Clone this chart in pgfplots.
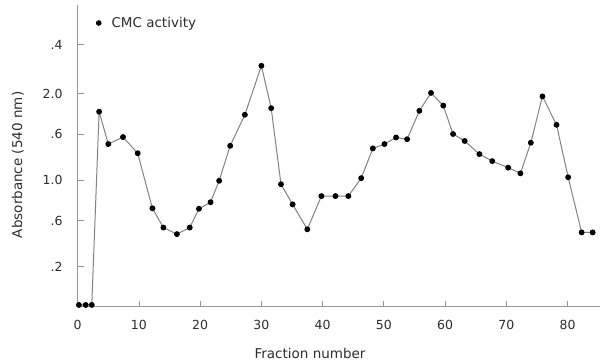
\documentclass[border=0pt]{standalone}
\usepackage{pgfplots}
\pgfplotsset{compat=1.18}
\usepackage{fontspec}
\setmainfont{DejaVu Sans}
\definecolor{axgray}{RGB}{150,150,150}
\definecolor{lngray}{RGB}{130,130,130}
\definecolor{txt}{RGB}{45,45,45}
\begin{document}
\begin{tikzpicture}
\begin{axis}[
  scale only axis, width=522.3bp, height=301.7bp,
  xmin=0, xmax=85.3, ymin=0, ymax=6.9,
  axis x line=bottom, axis y line=left,
  axis line style={-, draw=axgray, line width=0.8bp},
  xtick={0,10,...,80},
  ytick={0.92,1.97,2.90,3.95,4.87,5.99},
  yticklabels={.2,.6,1.0,.6,2.0,.4},
  tick style={draw=axgray, line width=0.8bp},
  tick align=inside, major tick length=6bp,
  /pgf/number format/assume math mode=true,
  xticklabel style={font=\fontsize{12.5bp}{15bp}\selectfont, text=txt, inner sep=0pt, yshift=-13bp},
  yticklabel style={font=\fontsize{12.5bp}{15bp}\selectfont, text=txt, inner sep=0pt, xshift=-15bp},
  xlabel={Fraction number},
  xlabel style={at={(axis description cs:0.4448,-0.1535)}, anchor=center, font=\fontsize{13.5bp}{16bp}\selectfont, text=txt},
  ylabel={Absorbance (540 nm)},
  ylabel style={at={(axis description cs:-0.1143,0.47)}, anchor=center, font=\fontsize{13.5bp}{16bp}\selectfont, text=txt},
  legend image code/.code={\fill[black] (0bp,0bp) circle (2.3bp);},
  legend style={draw=none, fill=none, at={(axis description cs:0.0345,0.9403)}, anchor=west,
    inner sep=0pt, column sep=8bp, font=\fontsize{13.5bp}{16bp}\selectfont, text=txt},
  clip=false,
]
\addplot[color=lngray, line width=1bp, mark=*, mark size=2.4bp, mark options={fill=black, draw=black}] coordinates {
(0.2,0.04) (1.3,0.04) (2.3,0.04) (3.5,4.46) (5.0,3.72) (7.4,3.88) (9.8,3.51)
(12.2,2.25) (14.0,1.81) (16.2,1.66) (18.3,1.81) (19.8,2.24) (21.7,2.39) (23.1,2.88)
(24.9,3.68) (27.3,4.39) (30.0,5.51) (31.6,4.54) (33.2,2.80) (35.1,2.34) (37.5,1.77)
(39.8,2.53) (42.1,2.53) (44.2,2.53) (46.3,2.94) (48.2,3.62) (50.1,3.72) (52.0,3.87)
(53.8,3.83) (55.8,4.48) (57.7,4.89) (59.7,4.60) (61.3,3.95) (63.2,3.79) (65.6,3.49)
(67.7,3.33) (70.3,3.18) (72.3,3.05) (74.0,3.75) (75.9,4.81) (78.2,4.16) (80.1,2.96)
(82.3,1.70) (84.1,1.70)
};
\addlegendentry{CMC activity}
\end{axis}
\pgfresetboundingbox
\path[use as bounding box] (-77.7bp,-54.3bp) rectangle (523.3bp,306.7bp);
\end{tikzpicture}
\end{document}
